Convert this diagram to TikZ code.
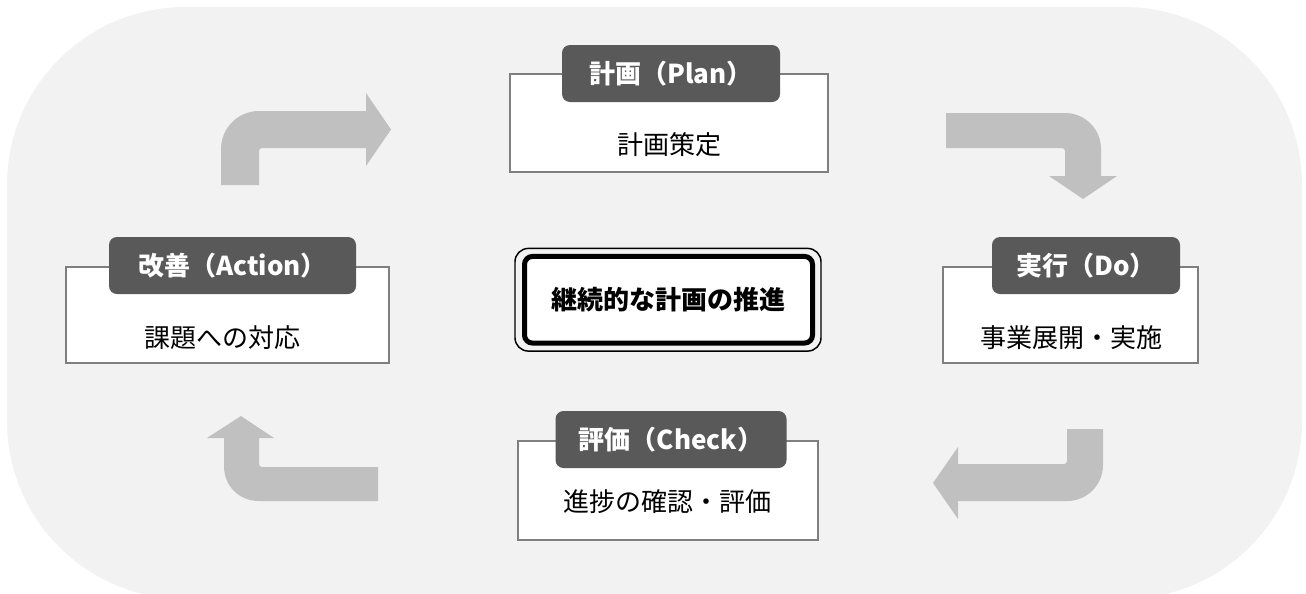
\documentclass[tikz,border=0pt]{standalone}
\usepackage{fontspec}
\setmainfont{Noto Sans CJK JP}
\usetikzlibrary{calc}
\definecolor{bgcol}{HTML}{F2F2F2}
\definecolor{arrowcol}{HTML}{C0C0C0}
\definecolor{headcol}{HTML}{595959}
\definecolor{boxline}{HTML}{7F7F7F}
\begin{document}
\begin{tikzpicture}[x=0.75pt,y=-0.75pt,
  bodybox/.style={draw=boxline, line width=1.5pt, fill=white, inner sep=0pt},
  headbox/.style={fill=headcol, rounded corners=6pt, inner sep=0pt, text=white,
    font=\bfseries\fontsize{19.5pt}{23pt}\selectfont},
  bodytext/.style={inner sep=0pt, font=\fontsize{19.5pt}{23pt}\selectfont},
  cycarrow/.style={fill=arrowcol}]
\useasboundingbox (0,0) rectangle (1306,593);
\fill[bgcol, rounded corners=133.5pt] (7,7) rectangle (1302,599);

% cycle arrows
\fill[cycarrow] (221,185) -- (221,149) .. controls (221,128) and (238,111) .. (259,111)
  -- (366,111) -- (366,93) -- (391,129.5) -- (366,166) -- (366,148) -- (262,148)
  .. controls (260.3,148) and (259,149.3) .. (259,151) -- (259,185) -- cycle;
\fill[cycarrow] (946,113) -- (1065,113) .. controls (1085,113) and (1101,129) .. (1101,149)
  -- (1101,176) -- (1117,176) -- (1083,199) -- (1049,176) -- (1065,176) -- (1065,151)
  .. controls (1065,149.3) and (1063.7,148) .. (1062,148) -- (946,148) -- cycle;
\fill[cycarrow] (1067,429) -- (1103,429) -- (1103,465) .. controls (1103,485) and (1087,501) .. (1067,501)
  -- (958,501) -- (958,519) -- (933,483) -- (958,447) -- (958,464) -- (1064,464)
  .. controls (1065.7,464) and (1067,462.7) .. (1067,461) -- cycle;
\fill[cycarrow] (378,467) -- (262,467) .. controls (260.3,467) and (259,465.7) .. (259,464)
  -- (259,438) -- (274,438) -- (241,416) -- (207,438) -- (224,438) -- (224,466)
  .. controls (224,486) and (239,501) .. (259,501) -- (378,501) -- cycle;

% Plan
\node[bodybox, minimum width=238.5pt, minimum height=73.5pt] (planbox) at (669,123) {};
\node[headbox, minimum width=163.5pt, minimum height=42.75pt] (planhead) at (671,73.5) {計画（Plan）};
\node[bodytext] (plantext) at (669,145) {計画策定};

% Do
\node[bodybox, minimum width=191.25pt, minimum height=72pt] (dobox) at (1070.5,315) {};
\node[headbox, minimum width=141pt, minimum height=42.75pt] (dohead) at (1086,265.5) {実行（Do）};
\node[bodytext] (dotext) at (1071,338) {事業展開・実施};

% Check
\node[bodybox, minimum width=225pt, minimum height=74pt] (checkbox) at (667.5,490.5) {};
\node[headbox, minimum width=173.25pt, minimum height=42.75pt] (checkhead) at (671,439.5) {評価（Check）};
\node[bodytext] (checktext) at (667,502) {進捗の確認・評価};

% Action
\node[bodybox, minimum width=242.25pt, minimum height=72pt] (actbox) at (227.5,315) {};
\node[headbox, minimum width=185.25pt, minimum height=42.75pt] (acthead) at (232.5,265.5) {改善（Action）};
\node[bodytext] (acttext) at (222,338) {課題への対応};

% center
\node[draw=black, line width=3.75pt, fill=white, rounded corners=6pt, inner sep=0pt,
  minimum width=216pt, minimum height=65pt,
  font=\bfseries\fontsize{19.5pt}{23pt}\selectfont] (core) at (668.5,299.75) {継続的な計画の推進};
\draw[black, line width=1.1pt, rounded corners=10pt]
  ([shift={(-7,-5.5)}]core.north west) rectangle ([shift={(6,5.5)}]core.south east);
\end{tikzpicture}
\end{document}
